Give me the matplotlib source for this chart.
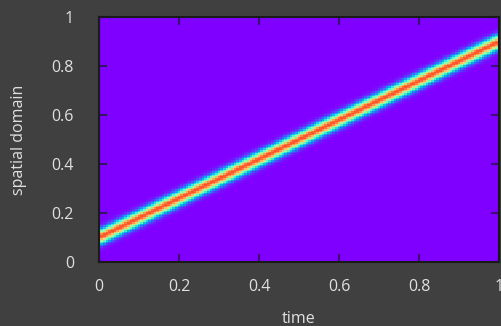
import numpy as np
import matplotlib
matplotlib.use("Agg")
import matplotlib.pyplot as plt

# data: a Gaussian pulse travelling linearly through the spatial domain
time = np.linspace(0, 1, 151)
space = np.linspace(0, 1, 151)
center_start = 0.1
center_end = 0.9
pulse_width = 0.02
xticks = [0, 0.2, 0.4, 0.6, 0.8, 1]
yticks = [0, 0.2, 0.4, 0.6, 0.8, 1]
xtick_labels = ["0", "0.2", "0.4", "0.6", "0.8", "1"]
ytick_labels = ["0", "0.2", "0.4", "0.6", "0.8", "1"]

centers = center_start + (center_end - center_start) * time
T, Y = np.meshgrid(time, space)
field = np.exp(-((Y - centers[None, :]) ** 2) / (2 * pulse_width ** 2))

bg = "#404040"
fg = "#e0e0e0"
plt.rcParams['font.family'] = ['Open Sans', 'DejaVu Sans']

fig = plt.figure(figsize=(5.02, 3.26), dpi=100, facecolor=bg)
ax = fig.add_axes([99/502, 1 - 262/326, 400/502, 245/326])
ax.set_facecolor(bg)
ax.pcolormesh(time, space, field, cmap="rainbow", shading="nearest", vmin=0, vmax=1.12)
ax.set_xlim(0, 1)
ax.set_ylim(0, 1)
ax.set_xticks(xticks)
ax.set_xticklabels(xtick_labels)
ax.set_yticks(yticks)
ax.set_yticklabels(ytick_labels)
ax.tick_params(direction="in", length=6, width=1.5, color="#3a1070",
               labelcolor=fg, labelsize=11.5, top=True, right=True)
ax.tick_params(axis="y", pad=18)
ax.tick_params(axis="x", pad=12)
for s in ax.spines.values():
    s.set_color("#1a1a1a")
    s.set_linewidth(1.5)
ax.set_xlabel("time", color=fg, fontsize=11.5, labelpad=12)
ax.set_ylabel("spatial domain", color=fg, fontsize=11.5, labelpad=18)
fig.savefig("out.png", dpi=100, facecolor=bg)
